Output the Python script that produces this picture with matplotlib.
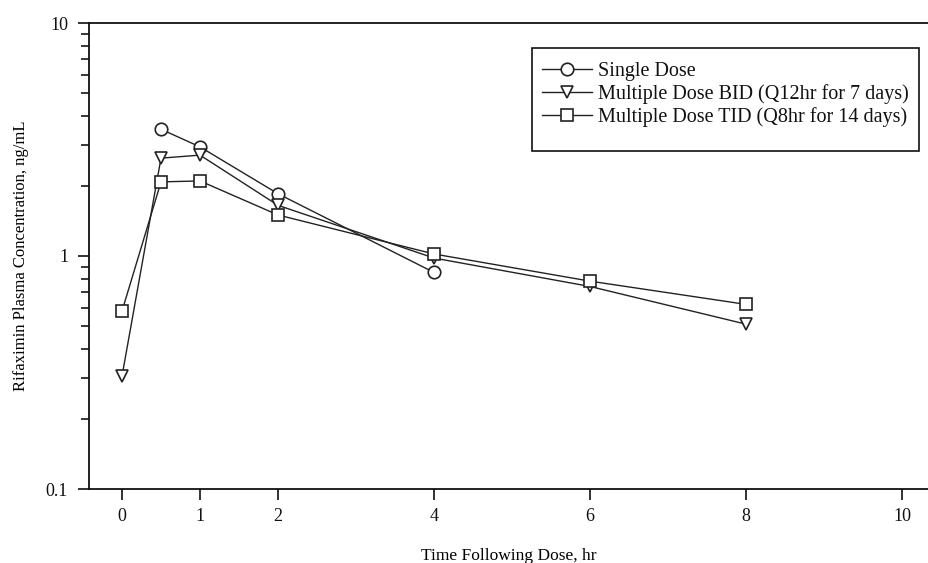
import matplotlib
matplotlib.use("Agg")
import matplotlib.pyplot as plt
from matplotlib.patches import Rectangle
from matplotlib.ticker import FixedLocator, LogLocator, NullFormatter

plt.rcParams['font.family'] = ['Liberation Serif', 'DejaVu Serif']

# Data
single_t = [0.5, 1, 2, 4]
single_c = [3.5, 2.94, 1.85, 0.85]
bid_t = [0, 0.5, 1, 2, 4, 6, 8]
bid_c = [0.305, 2.63, 2.71, 1.65, 0.98, 0.74, 0.51]
tid_t = [0, 0.5, 1, 2, 4, 6, 8]
tid_c = [0.58, 2.08, 2.10, 1.50, 1.02, 0.78, 0.62]
labels = ["Single Dose", "Multiple Dose BID (Q12hr for 7 days)",
          "Multiple Dose TID (Q8hr for 14 days)"]
xticks = [0, 1, 2, 4, 6, 8, 10]
yticks = [0.1, 1, 10]
ytick_labels = ["0.1", "1", "10"]

W, H = 929, 563
fig = plt.figure(figsize=(W / 100, H / 100), dpi=100)
left, right, top, bottom = 89, 929, 23, 489
ax = fig.add_axes([left / W, (H - bottom) / H, (right - left) / W, (bottom - top) / H])

lc = '#222222'
kw = dict(color=lc, lw=1.0, mfc='white', mec=lc, mew=1.2)
ax.plot(single_t, single_c, marker='o', ms=9, label=labels[0], **kw)
ax.plot(bid_t, bid_c, marker='v', ms=8.5, label=labels[1], **kw)
ax.plot(tid_t, tid_c, marker='s', ms=8, label=labels[2], **kw)

ax.set_yscale('log')
ax.set_ylim(0.1, 10)
x0 = -(122 - left) / 78.0
x1 = (right - 122) / 78.0
ax.set_xlim(x0, x1)
ax.xaxis.set_major_locator(FixedLocator(xticks))
ax.set_xticklabels([str(t) for t in xticks])
ax.yaxis.set_major_locator(FixedLocator(yticks))
ax.set_yticklabels(ytick_labels)
ax.yaxis.set_minor_locator(LogLocator(base=10, subs=range(2, 10)))
ax.yaxis.set_minor_formatter(NullFormatter())

ax.spines['right'].set_visible(False)
for s in ['left', 'top', 'bottom']:
    ax.spines[s].set_linewidth(1.3)
    ax.spines[s].set_color('#111111')
ax.tick_params(axis='both', which='major', direction='out', length=8, width=1.2,
               labelsize=13, colors='#111111')
ax.tick_params(axis='x', pad=6)
ax.tick_params(axis='y', pad=7)
ax.tick_params(axis='y', which='minor', direction='out', length=6, width=1.1)

ax.set_xlabel("Time Following Dose, hr", fontsize=12.5, labelpad=16)
ax.set_ylabel("Rifaximin Plasma Concentration, ng/mL", fontsize=12, labelpad=12)

leg = ax.legend(loc='upper left', bbox_to_anchor=(542 / W, (H - 62) / H),
                bbox_transform=fig.transFigure, frameon=False, fontsize=14.5,
                handlelength=2.5, handletextpad=0.3, labelspacing=0.15,
                borderpad=0, borderaxespad=0)
for t in leg.get_texts():
    t.set_color('#111111')

fig.patches.append(Rectangle((532 / W, (H - 151) / H), (919 - 532) / W, (151 - 48) / H,
                             transform=fig.transFigure, fill=False, ec='#111111', lw=1.2))

fig.savefig("out.png", dpi=100)
